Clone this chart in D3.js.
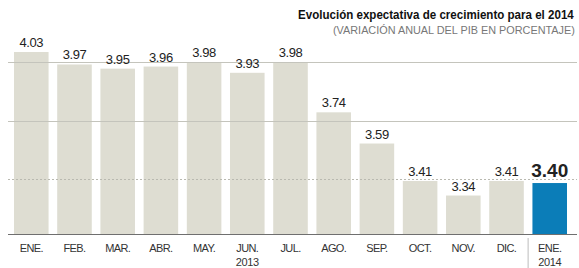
<!DOCTYPE html>
<html>
<head>
<meta charset="utf-8">
<script src="https://cdn.jsdelivr.net/npm/d3@7"></script>
<style>
  body { margin: 0; background: #fff; }
  text { font-family: "Liberation Sans Narrow", "Liberation Sans", sans-serif; }
</style>
</head>
<body>
<script>
// Data
const months = ['ENE.', 'FEB.', 'MAR.', 'ABR.', 'MAY.', 'JUN.', 'JUL.', 'AGO.', 'SEP.', 'OCT.', 'NOV.', 'DIC.', 'ENE.'];
const years = ['', '', '', '', '', '2013', '', '', '', '', '', '', '2014'];
const values = [4.03, 3.97, 3.95, 3.96, 3.98, 3.93, 3.98, 3.74, 3.59, 3.41, 3.34, 3.41, 3.40];
const gridTicks = [3.42, 3.70, 3.98];

const width = 579;
const height = 268;
const baseY = 234;

const svg = d3.select('body')
    .append('svg')
    .attr('width', width)
    .attr('height', height);

const ids = d3.range(values.length);

const xScale = d3.scaleBand()
    .domain(ids)
    .range([14, 567])
    .paddingInner(0.2)
    .paddingOuter(0);

const yScale = d3.scaleLinear()
    .domain([3.155, 4.03])
    .range([baseY, 52]);

// Bars
svg.selectAll('rect.bar')
    .data(values)
    .enter().append('rect')
    .attr('class', 'bar')
    .attr('x', (d, i) => xScale(i))
    .attr('y', d => yScale(d))
    .attr('width', xScale.bandwidth())
    .attr('height', d => baseY - yScale(d))
    .attr('fill', (d, i) => i === values.length - 1 ? '#0b7db8' : '#deddd2');

// Gridlines (drawn over the bars)
svg.selectAll('line.grid')
    .data(gridTicks)
    .enter().append('line')
    .attr('x1', 8)
    .attr('x2', 577)
    .attr('y1', d => Math.round(yScale(d)) + 0.5)
    .attr('y2', d => Math.round(yScale(d)) + 0.5)
    .attr('stroke', (d, i) => i === 0 ? '#b9b9b0' : '#c4c4bc')
    .attr('stroke-width', 1)
    .attr('stroke-dasharray', (d, i) => i === 0 ? '2,2' : null);

// Baseline
svg.append('line')
    .attr('x1', 8)
    .attr('x2', 577)
    .attr('y1', baseY + 0.5)
    .attr('y2', baseY + 0.5)
    .attr('stroke', '#6f6f6f')
    .attr('stroke-width', 1.2);

// Separator before last bar
const sepX = (xScale(values.length - 2) + xScale.bandwidth() + xScale(values.length - 1)) / 2;
svg.append('line')
    .attr('x1', sepX)
    .attr('x2', sepX)
    .attr('y1', 238)
    .attr('y2', 268)
    .attr('stroke', '#bdbdbd')
    .attr('stroke-width', 1);

// Value labels
svg.selectAll('text.val')
    .data(values)
    .enter().append('text')
    .attr('class', 'val')
    .attr('x', (d, i) => xScale(i) + xScale.bandwidth() / 2)
    .attr('y', (d, i) => yScale(d) - (i === values.length - 1 ? 6 : 5))
    .attr('text-anchor', 'middle')
    .attr('fill', '#222')
    .attr('font-size', (d, i) => i === values.length - 1 ? 19 : 13)
    .attr('font-weight', (d, i) => i === values.length - 1 ? 'bold' : 'normal')
    .attr('letter-spacing', (d, i) => i === values.length - 1 ? 0 : -0.4)
    .text(d => d.toFixed(2));

// Month labels
svg.selectAll('text.month')
    .data(months)
    .enter().append('text')
    .attr('class', 'month')
    .attr('x', (d, i) => xScale(i) + xScale.bandwidth() / 2)
    .attr('y', 252)
    .attr('text-anchor', 'middle')
    .attr('fill', '#333')
    .attr('font-size', 11)
    .attr('letter-spacing', -0.6)
    .text(d => d);

svg.selectAll('text.year')
    .data(years)
    .enter().append('text')
    .attr('class', 'year')
    .attr('x', (d, i) => xScale(i) + xScale.bandwidth() / 2)
    .attr('y', 266)
    .attr('text-anchor', 'middle')
    .attr('fill', '#333')
    .attr('font-size', 11)
    .attr('letter-spacing', -0.4)
    .text(d => d);

// Title and subtitle, squeezed horizontally to look condensed
function squeezedText(x, y, w, str, size, weight, color) {
    const g = svg.append('g');
    const t = g.append('text')
        .attr('font-size', size)
        .attr('font-weight', weight)
        .attr('fill', color)
        .text(str);
    const k = w / t.node().getComputedTextLength();
    g.attr('transform', `translate(${x},${y}) scale(${k},1)`);
    return t;
}

squeezedText(298, 19, 276, 'Evolución expectativa de crecimiento para el 2014', 13, 'bold', '#111');
squeezedText(333, 34, 242, '(VARIACIÓN ANUAL DEL PIB EN PORCENTAJE)', 11, 'normal', '#777');
</script>
</body>
</html>
